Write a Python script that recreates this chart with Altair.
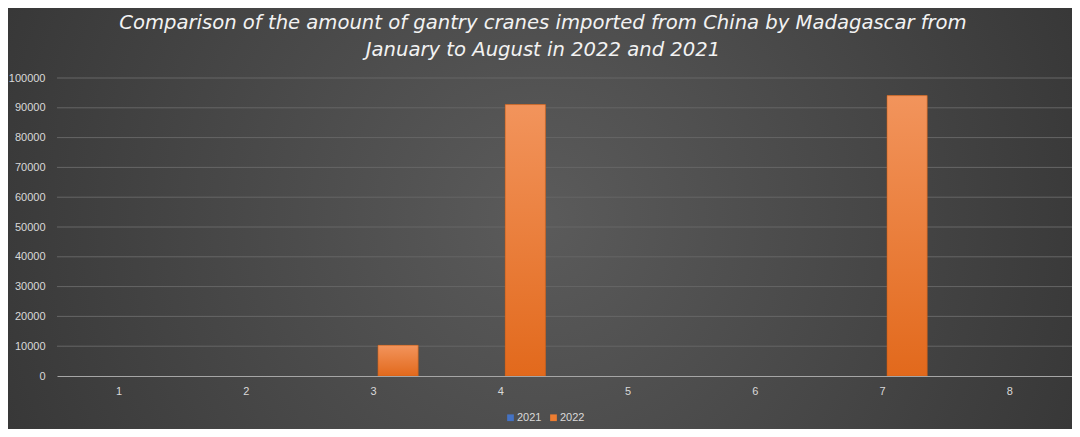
import altair as alt
import pandas as pd

months = [1, 2, 3, 4, 5, 6, 7, 8]
years = ["2021", "2022"]
v2021 = [0, 0, 0, 0, 0, 0, 0, 0]
v2022 = [0, 0, 10300, 91100, 0, 0, 94100, 0]
grid_ticks = [0, 10000, 20000, 30000, 40000, 50000, 60000, 70000, 80000, 90000, 100000]
title_lines = [
    "Comparison of the amount of gantry cranes imported from China by Madagascar from",
    "January to August in 2022 and 2021",
]

rows = []
for m, a, b in zip(months, v2021, v2022):
    rows.append({"month": m, "year": years[0], "value": a})
    rows.append({"month": m, "year": years[1], "value": b})
df = pd.DataFrame(rows)

W, H = 1015, 298
PL, PT, PR, PB = 49, 70, 0, 53

label_font = "Liberation Sans"
label_color = "#d9d9d9"

yscale = alt.Scale(domain=[0, 100000], nice=False)
yaxis = alt.Axis(values=grid_ticks, format="d", grid=False, domain=False, ticks=False,
                 title=None, labelPadding=12, labelColor=label_color, labelFont=label_font,
                 labelFontSize=11, zindex=1)
xscale = alt.Scale(paddingInner=0.30, paddingOuter=0.138)
xaxis = alt.Axis(labelAngle=0, title=None, ticks=False, domain=True, domainColor="#a6a6a6",
                 domainWidth=1, labelPadding=9, labelColor=label_color, labelFont=label_font,
                 labelFontSize=11, grid=False, zindex=1)
xoff = alt.XOffset("year:N", scale=alt.Scale(domain=years, paddingInner=0.178, paddingOuter=0))

bg = alt.Chart(pd.DataFrame({"a": [0]})).mark_rect(
    fill=alt.RadialGradient(
        gradient="radial",
        stops=[alt.GradientStop(offset=0, color="#5b5b5b"),
               alt.GradientStop(offset=1, color="#2a2a2a")],
        x1=0.5, y1=0.5, x2=0.5, y2=0.5, r1=0, r2=0.75,
    )
).encode(
    x=alt.value(-PL), x2=alt.value(W + PR), y=alt.value(-PT), y2=alt.value(H + PB)
)

title = alt.Chart(pd.DataFrame({"a": [0]})).mark_text(
    text=title_lines, font="DejaVu Sans", fontStyle="italic", fontWeight="normal",
    fontSize=19.6, color="#f2f2f2", align="center", baseline="alphabetic", lineHeight=27,
).encode(x=alt.value(543 - 57), y=alt.value(29 - 78))

grid = alt.Chart(pd.DataFrame({"v": grid_ticks[1:]})).mark_rule(
    color="#666666", strokeWidth=1
).encode(
    y=alt.Y("v:Q", scale=yscale, axis=yaxis),
    x=alt.value(0), x2=alt.value(W),
)

bars = alt.Chart(df).mark_bar().encode(
    x=alt.X("month:O", scale=xscale, axis=xaxis),
    xOffset=xoff,
    y=alt.Y("value:Q", scale=yscale, axis=yaxis),
    color=alt.Color(
        "year:N",
        scale=alt.Scale(domain=years, range=["#4472c4", "#ed7d31"]),
        legend=alt.Legend(
            orient="none", legendX=448, legendY=334, direction="horizontal", title=None,
            symbolType="square", symbolSize=45, symbolStrokeWidth=0,
            labelColor=label_color, labelFont=label_font, labelFontSize=11,
            labelOffset=1, columnPadding=6, zindex=1,
        ),
    ),
)

overlay = alt.Chart(df).transform_filter(
    (alt.datum.year == "2022") & (alt.datum.value > 0)
).mark_bar(
    fill=alt.LinearGradient(
        gradient="linear",
        stops=[alt.GradientStop(offset=0, color="#f2945c"),
               alt.GradientStop(offset=1, color="#e2691c")],
        x1=0, x2=0, y1=0, y2=1,
    ),
    stroke="#c45a14", strokeWidth=0.5,
).encode(
    x=alt.X("month:O", scale=xscale, axis=xaxis),
    xOffset=xoff,
    y=alt.Y("value:Q", scale=yscale, axis=yaxis),
)

chart = alt.layer(bg, title, grid, bars, overlay).properties(
    width=W, height=H,
    padding={"left": PL, "top": PT, "right": PR, "bottom": PB},
    autosize=alt.AutoSizeParams(type="none"),
).configure(background="#3a3a3a").configure_view(strokeWidth=0)

chart.save("out.html", embed_options={"renderer": "svg", "actions": False})
